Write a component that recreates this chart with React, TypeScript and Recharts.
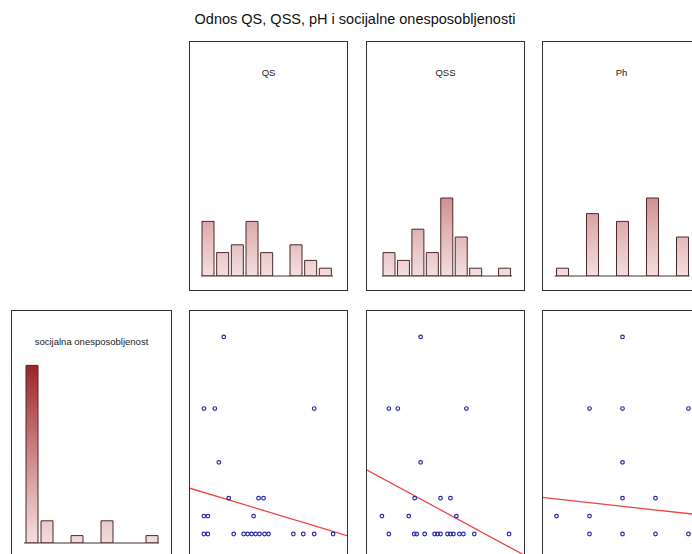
import {
  BarChart,
  Bar,
  ScatterChart,
  Scatter,
  XAxis,
  YAxis,
  ReferenceLine,
} from "recharts";

const TITLE = "Odnos QS, QSS, pH i socijalne onesposobljenosti";

// histogram bins (9 per variable) and counts
const BINS = ["1", "2", "3", "4", "5", "6", "7", "8", "9"];
const QS_COUNTS = [7, 3, 4, 7, 3, 0, 4, 2, 1];
const QSS_COUNTS = [3, 2, 6, 3, 10, 5, 1, 0, 1];
const PH_COUNTS = [1, 0, 8, 0, 7, 0, 10, 0, 5];
const SOC_COUNTS = [24, 3, 0, 1, 0, 3, 0, 0, 1];

// scatter: x = predictor, y = socijalna onesposobljenost
const QS_X = [3.5, 1.5, 2.6, 12.6, 3.0, 4.0, 7.0, 7.5, 1.5, 1.9, 6.5, 1.5, 1.9, 4.5, 5.5, 5.9, 6.3, 6.7, 7.1, 7.6, 8.0, 10.5, 11.5, 12.6, 14.5];
const QS_Y = [11, 7, 7, 7, 4, 2, 2, 2, 1, 1, 1, 0, 0, 0, 0, 0, 0, 0, 0, 0, 0, 0, 0, 0, 0];
const QSS_X = [5.5, 2.3, 3.2, 10.1, 5.5, 4.9, 7.5, 8.5, 1.6, 4.3, 9.1, 2.3, 4.85, 5.1, 5.9, 6.9, 7.2, 7.5, 8.2, 8.5, 8.8, 9.4, 9.8, 10.9, 14.4];
const QSS_Y = [11, 7, 7, 7, 4, 2, 2, 2, 1, 1, 1, 0, 0, 0, 0, 0, 0, 0, 0, 0, 0, 0, 0, 0, 0];
const PH_X = [7, 6, 7, 9, 7, 7, 8, 5, 6, 6, 7, 8, 9];
const PH_Y = [11, 7, 7, 7, 4, 2, 2, 1, 1, 0, 0, 0, 0];

// regression line end points [x0, y0, x1, y1]
const QS_FIT = [0, 2.57, 16, -0.11];
const QSS_FIT = [0, 3.6, 16, -1.2];
const PH_FIT = [4.56, 2.04, 9.38, 1.06];

const QS_DOMAIN = [0, 16];
const QSS_DOMAIN = [0, 16];
const PH_DOMAIN = [4.56, 9.38];
const SOC_DOMAIN = [-1.45, 12.5];

const FONT = '"Liberation Sans", Arial, sans-serif';
const PANEL_H = 250;

function Frame({ left, top, width, label, children }: any) {
  return (
    <div style={{ position: "absolute", left, top, width, height: PANEL_H }}>
      {children}
      {label && (
        <div
          style={{
            position: "absolute",
            left: 0,
            top: 26,
            width,
            textAlign: "center",
            fontSize: 9.5,
            color: "#222",
            fontFamily: FONT,
          }}
        >
          {label}
        </div>
      )}
      <div
        style={{
          position: "absolute",
          inset: 0,
          border: "1px solid #333",
          pointerEvents: "none",
        }}
      />
    </div>
  );
}

function Histogram({ id, counts, width, mLeft, mRight, mTop, mBottom }: any) {
  const data = BINS.map((bin, i) => ({ bin, count: counts[i] }));
  const base = PANEL_H - mBottom;
  return (
    <BarChart
      width={width}
      height={PANEL_H}
      data={data}
      margin={{ top: mTop, right: mRight, bottom: mBottom, left: mLeft }}
      barSize={12}
    >
      <defs>
        <linearGradient id={id} gradientUnits="userSpaceOnUse" x1={0} y1={base} x2={0} y2={base - 180}>
          <stop offset="0" stopColor="#f3dede" />
          <stop offset="0.25" stopColor="#e2b3b5" />
          <stop offset="0.5" stopColor="#cc8385" />
          <stop offset="0.75" stopColor="#b55255" />
          <stop offset="1" stopColor="#9a2226" />
        </linearGradient>
      </defs>
      <XAxis dataKey="bin" hide />
      <YAxis hide domain={[0, 30]} allowDataOverflow />
      <ReferenceLine y={0} stroke="#4a2e2e" strokeWidth={1} />
      <Bar dataKey="count" fill={`url(#${id})`} stroke="#4a2a2a" strokeWidth={1} isAnimationActive={false} />
    </BarChart>
  );
}

function Dot(props: any) {
  const { cx, cy } = props;
  return <circle cx={cx} cy={cy} r={1.8} fill="none" stroke="#2b2ba6" strokeWidth={1.2} />;
}

function ScatterPanel({ xs, ys, domain, fit }: any) {
  const data = xs.map((x: number, i: number) => ({ x, y: ys[i] }));
  return (
    <ScatterChart width={159} height={PANEL_H} margin={{ top: 0, right: 0, bottom: 0, left: 0 }}>
      <XAxis type="number" dataKey="x" domain={domain} hide allowDataOverflow />
      <YAxis type="number" dataKey="y" domain={SOC_DOMAIN} hide allowDataOverflow />
      <ReferenceLine
        segment={[
          { x: fit[0], y: fit[1] },
          { x: fit[2], y: fit[3] },
        ]}
        stroke="#ee4444"
        strokeWidth={1.3}
      />
      <Scatter data={data} shape={Dot} isAnimationActive={false} />
    </ScatterChart>
  );
}

export default function App() {
  return (
    <div
      style={{
        position: "fixed",
        left: 0,
        top: 0,
        width: 692,
        height: 554,
        overflow: "hidden",
        background: "#fff",
        fontFamily: FONT,
      }}
    >
      <div
        style={{
          position: "absolute",
          left: 0,
          top: 11,
          width: 710,
          textAlign: "center",
          fontSize: 14.5,
          color: "#111",
        }}
      >
        {TITLE}
      </div>

      <Frame left={189} top={41} width={159} label="QS">
        <Histogram id="gQS" counts={QS_COUNTS} width={159} mLeft={12} mRight={15} mTop={1} mBottom={15} />
      </Frame>
      <Frame left={366} top={41} width={159} label="QSS">
        <Histogram id="gQSS" counts={QSS_COUNTS} width={159} mLeft={16} mRight={13} mTop={1} mBottom={15} />
      </Frame>
      <Frame left={542} top={41} width={159} label="Ph">
        <Histogram id="gPH" counts={PH_COUNTS} width={159} mLeft={12.5} mRight={11.5} mTop={1} mBottom={15} />
      </Frame>

      <Frame left={11} top={310} width={161} label="socijalna onesposobljenost">
        <Histogram id="gSOC" counts={SOC_COUNTS} width={161} mLeft={13} mRight={13} mTop={11} mBottom={17} />
      </Frame>
      <Frame left={189} top={310} width={159}>
        <ScatterPanel xs={QS_X} ys={QS_Y} domain={QS_DOMAIN} fit={QS_FIT} />
      </Frame>
      <Frame left={366} top={310} width={159}>
        <ScatterPanel xs={QSS_X} ys={QSS_Y} domain={QSS_DOMAIN} fit={QSS_FIT} />
      </Frame>
      <Frame left={542} top={310} width={159}>
        <ScatterPanel xs={PH_X} ys={PH_Y} domain={PH_DOMAIN} fit={PH_FIT} />
      </Frame>
    </div>
  );
}
